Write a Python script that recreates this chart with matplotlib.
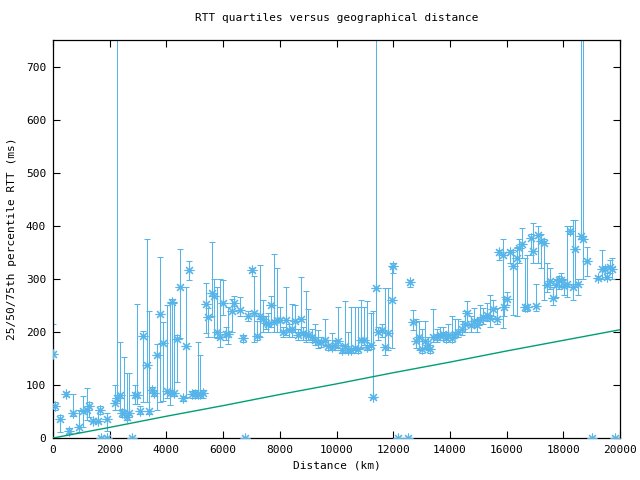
import matplotlib
matplotlib.use('Agg')
import matplotlib.pyplot as plt

# distance (km), 25th / 50th / 75th percentile RTT (ms)
km = [0, 70, 250, 460, 575, 695, 930, 1070, 1190, 1280, 1400, 1600, 1660, 1700, 1890, 1900,
      2190, 2260, 2360, 2420, 2500, 2600, 2690, 2770, 2890, 2975, 3070, 3185, 3300, 3400,
      3500, 3575, 3680, 3775, 3890, 4010, 4130, 4185, 4280, 4385, 4480, 4600, 4690, 4800,
      4900, 5000, 5100, 5200, 5300, 5400, 5480, 5600, 5690, 5800, 5890, 6010, 6090, 6180,
      6300, 6390, 6600, 6710, 6770, 6890, 7010, 7100, 7200, 7300, 7400, 7520, 7600, 7690,
      7800, 7910, 8000, 8100, 8220, 8340, 8420, 8540, 8650, 8740, 8830, 8925, 9000, 9120,
      9240, 9350, 9470, 9600, 9700, 9830, 9950, 10060, 10180, 10300, 10400, 10520, 10640,
      10760, 10870, 10980, 11080, 11200, 11300, 11400, 11475, 11590, 11710, 11830, 11950,
      12000, 12180, 12530, 12590, 12710, 12800, 12920, 13000, 13120, 13230, 13300, 13415,
      13530, 13650, 13760, 13860, 13940, 14060, 14180, 14290, 14410, 14530, 14615, 14730,
      14850, 14960, 15070, 15180, 15300, 15410, 15530, 15650, 15745, 15860, 15910, 16030,
      16120, 16240, 16360, 16450, 16530, 16650, 16720, 16850, 16940, 17040, 17120, 17220,
      17320, 17410, 17530, 17650, 17760, 17860, 17930, 18020, 18140, 18240, 18330, 18420,
      18530, 18610, 18690, 18850, 19000, 19235, 19350, 19470, 19540, 19640, 19730, 19820]
p25 = [158, 53, 12, 80, 9, 42, 12, 21, 34, 40, 30, 30, 45, 0, 14, 0,
       53, 70, 53, 40, 40, 34, 43, 0, 65, 65, 45, 68, 68, 45,
       85, 80, 53, 67, 70, 75, 62, 80, 80, 106, 188, 70, 78, 297,
       76, 76, 75, 75, 76, 198, 190, 230, 190, 188, 172, 232, 185, 177,
       200, 248, 230, 180, 0, 220, 312, 180, 185, 190, 200, 205, 200, 210,
       200, 200, 200, 190, 195, 190, 190, 200, 185, 200, 185, 180, 185, 180,
       175, 170, 172, 175, 165, 165, 165, 170, 160, 162, 160, 160, 160,
       160, 170, 175, 165, 168, 75, 200, 185, 190, 157, 165, 170,
       310, 0, 0, 285, 204, 170, 165, 160, 170, 165, 160, 180,
       180, 185, 185, 180, 185, 180, 190, 190, 195, 200, 215, 200,
       210, 200, 215, 215, 220, 210, 230, 215, 335, 207, 230, 250,
       330, 232, 230, 330, 340, 240, 240, 345, 330, 240, 330, 320,
       260, 275, 280, 250, 265, 280, 285, 270, 265, 385, 260, 290,
       270, 380, 300, 305, 0, 300, 300, 300, 300, 310, 300, 0]
p50 = [158, 61, 36, 83, 14, 47, 20, 51, 53, 61, 32, 32, 53, 0, 36, 0,
       66, 75, 81, 47, 47, 39, 48, 0, 81, 81, 51, 193, 137, 51,
       91, 84, 157, 234, 179, 89, 84, 257, 84, 187, 284, 75, 174, 317,
       82, 83, 82, 83, 84, 253, 228, 273, 268, 200, 191, 255, 196, 196,
       240, 254, 241, 188, 0, 230, 316, 235, 193, 230, 224, 216, 215, 251,
       218, 223, 222, 199, 223, 204, 205, 221, 194, 224, 198, 196, 194, 191,
       185, 181, 180, 184, 173, 172, 175, 182, 165, 173, 165, 165, 170,
       168, 185, 185, 172, 175, 78, 282, 200, 204, 171, 198, 260,
       325, 0, 0, 294, 218, 182, 191, 167, 182, 176, 167, 190,
       191, 194, 196, 188, 194, 188, 196, 200, 206, 215, 236, 213,
       221, 213, 223, 228, 231, 226, 243, 225, 350, 345, 247, 262,
       350, 325, 340, 358, 366, 247, 246, 377, 353, 249, 383, 371,
       368, 289, 295, 264, 289, 298, 298, 287, 291, 391, 285, 356,
       291, 380, 375, 333, 0, 301, 319, 318, 304, 322, 318, 0]
p75 = [215, 68, 43, 86, 18, 83, 53, 79, 94, 68, 35, 53, 60, 0, 47, 0,
       100, 1000, 181, 55, 153, 122, 122, 0, 100, 252, 60, 202, 375, 240,
       96, 90, 177, 341, 219, 250, 254, 262, 255, 194, 356, 80, 285, 334,
       88, 90, 180, 157, 90, 292, 245, 370, 300, 284, 300, 298, 210, 247,
       262, 268, 265, 195, 0, 240, 320, 306, 220, 326, 260, 230, 235, 267,
       347, 321, 246, 210, 285, 215, 253, 250, 205, 304, 210, 277, 243, 205,
       214, 204, 190, 224, 185, 198, 185, 246, 175, 258, 200, 246, 246,
       246, 260, 246, 258, 235, 240, 1000, 210, 215, 283, 283, 323,
       330, 0, 0, 298, 241, 225, 220, 205, 220, 190, 175, 243,
       205, 210, 210, 200, 215, 230, 225, 225, 220, 240, 258, 230,
       245, 225, 250, 245, 255, 270, 260, 245, 355, 375, 265, 275,
       355, 355, 360, 375, 395, 340, 345, 385, 405, 290, 400, 385,
       375, 330, 320, 285, 300, 305, 310, 300, 399, 400, 410, 410,
       300, 1000, 1000, 360, 0, 305, 355, 325, 310, 335, 340, 0]

# lower bound line
bound_km = [0, 2000, 4000, 6000, 8000, 10000, 12000, 14000, 16000, 18000, 20000]
bound_ms = [0, 20, 41, 61, 82, 102, 123, 143, 164, 184, 204]

blue = '#56B4E9'
green = '#009E73'
plt.rcParams['font.family'] = 'DejaVu Sans Mono'
plt.rcParams['font.size'] = 8

fig = plt.figure(figsize=(6.4, 4.8), dpi=100)
ax = fig.add_axes([53/640, 42/480, 567/640, 398/480])

yerr = [[m - l for m, l in zip(p50, p25)], [h - m for h, m in zip(p75, p50)]]
ax.errorbar(km, p50, yerr=yerr, fmt='none', ecolor=blue, elinewidth=0.75,
            capsize=2.2, capthick=0.75, zorder=2)
ax.plot(km, p50, linestyle='none', marker=(8, 2, 0), markersize=7,
        markeredgewidth=0.8, color=blue, zorder=3)
ax.plot(bound_km, bound_ms, '-', color=green, linewidth=1, zorder=4)

ax.set_xlim(0, 20000)
ax.set_ylim(0, 750)
ax.set_xticks(range(0, 20001, 2000))
ax.set_yticks(range(0, 701, 100))
ax.tick_params(direction='in', top=True, right=True, length=5, width=0.8, pad=5)
for s in ax.spines.values():
    s.set_linewidth(0.9)

ax.set_title("RTT quartiles versus geographical distance", fontsize=8, pad=14)
ax.set_xlabel("Distance (km)", labelpad=4)
ax.set_ylabel("25/50/75th percentile RTT (ms)", labelpad=6)

fig.savefig("out.png", dpi=100)
